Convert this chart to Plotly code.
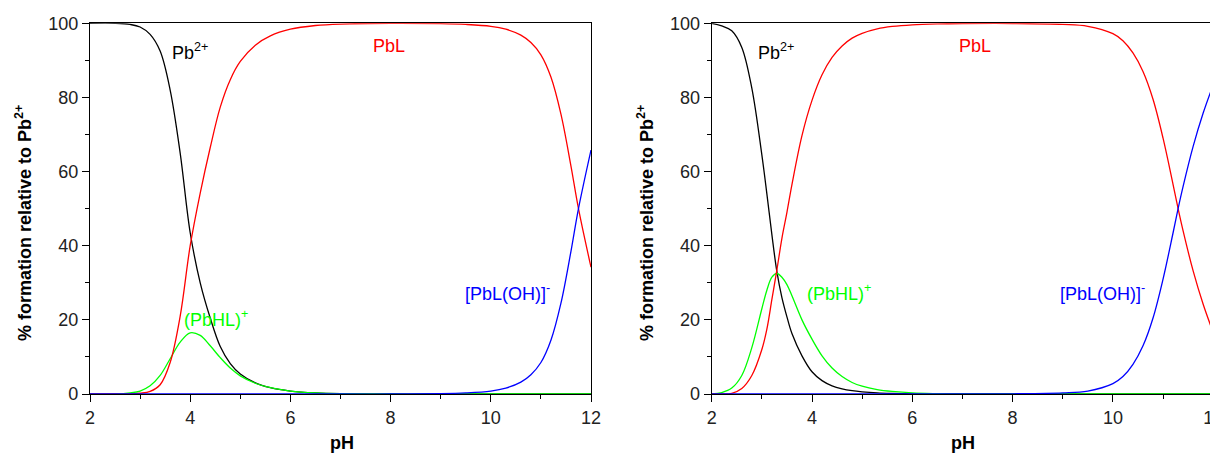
import plotly.graph_objects as go

# ---------------- data ----------------
pH_left = [2.0, 2.5, 2.8, 3.0, 3.2, 3.4, 3.6, 3.8, 4.0, 4.2, 4.4, 4.6, 4.8, 5.0, 5.3, 5.6,
           6.0, 6.5, 7.0, 8.0, 9.0, 9.5, 10.0, 10.3, 10.6, 10.8, 11.0, 11.2, 11.4, 11.6, 11.75, 12.0]
pb_left = [100, 100, 99.7, 99.0, 97.0, 92.5, 82.0, 65.0, 43.5, 30.0, 20.5, 12.8, 8.2, 5.4, 3.0, 1.7,
           0.8, 0.3, 0.1, 0, 0, 0, 0, 0, 0, 0, 0, 0, 0, 0, 0, 0]
pbhl_left = [0, 0, 0.3, 0.8, 2.2, 5.0, 9.5, 14.0, 16.5, 15.8, 13.0, 9.8, 7.0, 4.9, 2.9, 1.7,
             0.8, 0.3, 0.1, 0, 0, 0, 0, 0, 0, 0, 0, 0, 0, 0, 0, 0]
pbl_left = [0, 0, 0, 0.2, 0.7, 2.5, 8.5, 21.0, 40.0, 54.2, 66.5, 77.4, 84.8, 89.7, 94.1, 96.6,
            98.4, 99.4, 99.8, 100, 99.9, 99.7, 99.2, 98.4, 96.8, 94.8, 91.5, 85.5, 75.5, 61.5, 50.0, 34.2]
pbloh_left = [0, 0, 0, 0, 0, 0, 0, 0, 0, 0, 0, 0, 0, 0, 0, 0,
              0, 0, 0, 0, 0.1, 0.3, 0.8, 1.6, 3.2, 5.2, 8.5, 14.5, 24.5, 38.5, 50.0, 65.8]

pH_right = [2.0, 2.2, 2.4, 2.6, 2.8, 3.0, 3.1, 3.2, 3.3, 3.4, 3.5, 3.6, 3.8, 4.0, 4.2, 4.4, 4.6, 4.8,
            5.0, 5.3, 5.6, 6.0, 6.5, 7.0, 8.0, 9.0, 9.5, 10.0, 10.2, 10.4, 10.6, 10.8, 11.0, 11.2,
            11.3, 11.4, 11.6, 11.8, 12.0]
pb_right = [100, 99.3, 98.0, 93.5, 82.5, 64.5, 54.0, 43.0, 33.0, 26.0, 20.8, 16.3, 10.3, 6.0, 3.6, 2.2,
            1.4, 0.9, 0.6, 0.3, 0.15, 0.05, 0, 0, 0, 0, 0, 0, 0, 0, 0, 0, 0, 0, 0, 0, 0, 0, 0]
pbhl_right = [0, 0.4, 1.6, 5.0, 12.5, 23.0, 28.0, 31.5, 32.5, 31.5, 29.5, 26.5, 20.0, 14.8, 10.3, 7.0,
              4.7, 3.1, 2.1, 1.2, 0.7, 0.3, 0.1, 0, 0, 0, 0, 0, 0, 0, 0, 0, 0, 0, 0, 0, 0, 0, 0]
pbl_right = [0, 0, 0.2, 1.5, 5.0, 12.0, 17.5, 25.5, 33.5, 42.0, 49.0, 56.5, 69.7, 79.2, 86.1, 90.8,
             93.9, 96.0, 97.3, 98.5, 99.15, 99.6, 99.85, 99.95, 99.95, 99.7, 99.2, 97.2, 95.3, 92.0,
             87.0, 79.5, 69.0, 56.5, 50.0, 44.0, 33.2, 24.2, 16.6]
pbloh_right = [0, 0, 0, 0, 0, 0, 0, 0, 0, 0, 0, 0, 0, 0, 0, 0, 0, 0, 0, 0, 0, 0, 0, 0,
               0.05, 0.3, 0.8, 2.8, 4.7, 8.0, 13.0, 20.5, 31.0, 43.5, 50.0, 56.0, 66.8, 75.8, 83.4]

species_names = ["Pb<sup>2+</sup>", "(PbHL)<sup>+</sup>", "PbL", "[PbL(OH)]<sup>-</sup>"]
colors = ["#000000", "#00FF00", "#FF0000", "#0000FF"]

x_ticks = [2, 4, 6, 8, 10, 12]
y_ticks = [0, 20, 40, 60, 80, 100]

# label positions (data coords) for each panel
labels_left = [(3.6, 92.5), (3.84, 20.5), (7.6, 94.0), (9.44, 27.5)]
labels_right = [(2.88, 92.5), (3.86, 27.5), (6.9, 94.0), (8.9, 27.5)]

# the page places the figure 8 px in from the top-left corner
W, H = 1210, 447
FONT = "Liberation Sans, Arial, sans-serif"

fig = go.Figure()

panels = [
    ("x", "y", pH_left, [pb_left, pbhl_left, pbl_left, pbloh_left], labels_left),
    ("x2", "y2", pH_right, [pb_right, pbhl_right, pbl_right, pbloh_right], labels_right),
]
for xa, ya, ph, series, labs in panels:
    for name, col, vals in zip(species_names, colors, series):
        fig.add_trace(go.Scatter(x=ph, y=vals, mode="lines", name=name, xaxis=xa, yaxis=ya,
                                 line=dict(color=col, width=1.3, shape="spline", smoothing=1.0),
                                 showlegend=False, hoverinfo="skip"))
    for name, col, (lx, ly) in zip(species_names, colors, labs):
        fig.add_annotation(x=lx, y=ly, xref=xa, yref=ya, text=name, showarrow=False,
                           xanchor="left", yanchor="middle",
                           font=dict(family=FONT, size=18, color=col))

axis_common = dict(showgrid=False, zeroline=False, showline=True, linecolor="#000000",
                   linewidth=1.3, mirror=True, ticks="outside", tickcolor="#000000",
                   tickwidth=1.3, ticklen=7, automargin=False, ticklabeloverflow="allow",
                   tickfont=dict(family=FONT, size=18, color="#222222"))

xd1 = [82 / W, 583 / W]
xd2 = [703.7 / W, 1205.2 / W]
yd = [(H - 386) / H, (H - 15.3) / H]

minor_x = dict(dtick=1, ticks="outside", ticklen=4, tickcolor="#000000", tickwidth=1.3)
minor_y = dict(dtick=10, ticks="outside", ticklen=4, tickcolor="#000000", tickwidth=1.3)

fig.update_layout(
    width=W, height=H, margin=dict(l=0, r=0, t=0, b=0, autoexpand=False),
    paper_bgcolor="white", plot_bgcolor="white",
    xaxis=dict(domain=xd1, range=[2, 12], tickvals=x_ticks, anchor="y", minor=minor_x, **axis_common),
    yaxis=dict(domain=yd, range=[0, 100], tickvals=y_ticks, anchor="x", minor=minor_y, **axis_common),
    xaxis2=dict(domain=xd2, range=[2, 12], tickvals=x_ticks, anchor="y2", minor=minor_x, **axis_common),
    yaxis2=dict(domain=yd, range=[0, 100], tickvals=y_ticks, anchor="x2", minor=minor_y, **axis_common),
)

ytitle = "<b>% formation relative to Pb<sup>2+</sup></b>"
for xc in [15 / W, 637 / W]:
    fig.add_annotation(x=xc, y=(H - 215) / H, xref="paper", yref="paper", text=ytitle,
                       textangle=-90, showarrow=False, xanchor="center", yanchor="middle",
                       font=dict(family=FONT, size=18, color="#000000"))
for xc in [334 / W, 955 / W]:
    fig.add_annotation(x=xc, y=0, xref="paper", yref="paper", text="<b>pH</b>",
                       showarrow=False, xanchor="center", yanchor="bottom",
                       font=dict(family=FONT, size=18, color="#000000"))

fig.write_html("out.html")
